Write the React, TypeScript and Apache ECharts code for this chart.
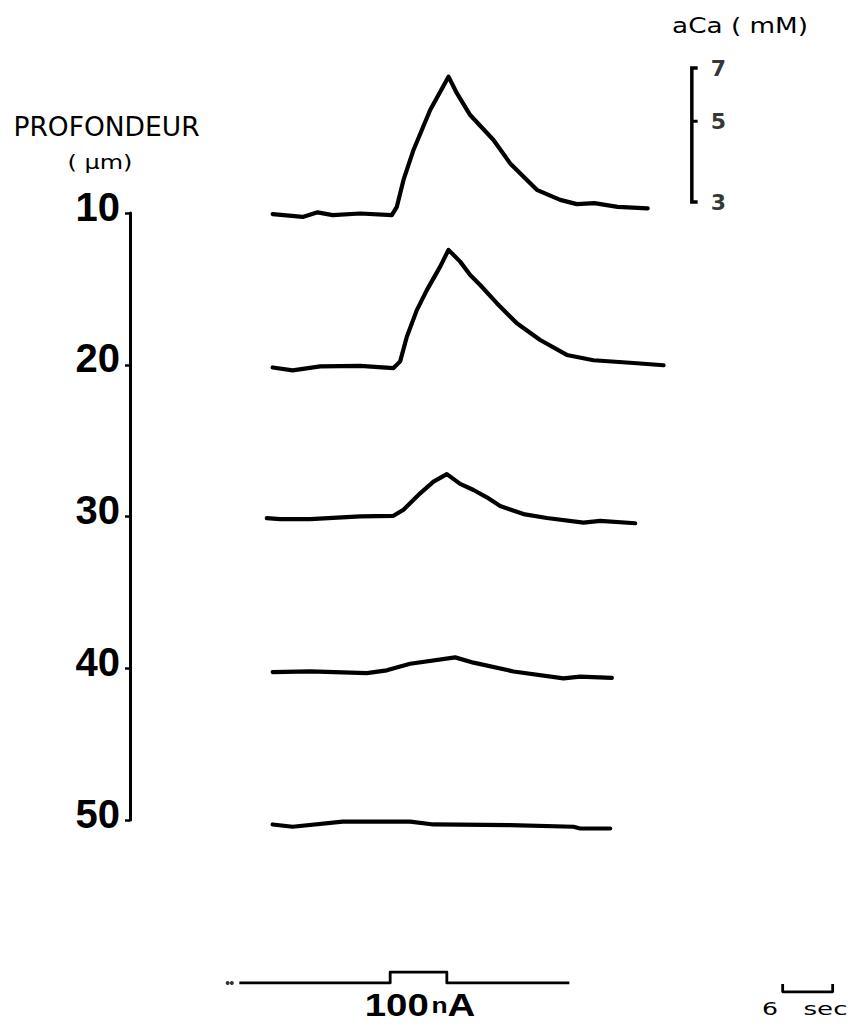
import React, { useEffect, useRef } from "react";
import * as echarts from "echarts";

// ---------- data ----------
const depthLabels = [10, 20, 30, 40, 50];

// time in seconds (0 = onset of the 100 nA pulse), aCa in mM
const trace10Time = [-14.2, -10.6, -8.8, -7.0, -3.7, 0.1, 0.7, 1.5, 2.7, 4.7, 6.9, 7.9, 9.5, 12.3, 14.3, 17.5, 20.3, 22.3, 24.4, 27.2, 30.8];
const trace10Aca = [2.78, 2.73, 2.81, 2.76, 2.79, 2.76, 2.91, 3.45, 4.17, 5.37, 6.63, 5.97, 5.2, 4.44, 3.83, 3.24, 3.04, 2.96, 2.98, 2.91, 2.88];

const trace20Time = [-14.2, -11.8, -8.5, -3.7, 0.3, 1.1, 1.9, 3.1, 4.3, 5.9, 6.9, 8.3, 9.5, 10.7, 12.7, 15.1, 17.9, 21.1, 24.3, 29.1, 32.7];
const trace20Aca = [2.79, 2.74, 2.81, 2.82, 2.78, 2.9, 3.39, 4.01, 4.55, 5.28, 5.87, 5.45, 5.01, 4.7, 4.19, 3.69, 3.32, 3.02, 2.92, 2.87, 2.83];

const trace30Time = [-14.9, -13.3, -9.7, -3.7, 0.3, 1.5, 3.5, 5.1, 6.7, 8.3, 9.9, 11.5, 13.1, 15.9, 18.7, 23.1, 25.1, 29.3];
const trace30Aca = [2.78, 2.76, 2.76, 2.81, 2.82, 2.93, 3.25, 3.5, 3.67, 3.45, 3.32, 3.17, 3.0, 2.85, 2.78, 2.7, 2.73, 2.69];

const trace40Time = [-14.2, -9.7, -2.9, -0.5, 2.3, 7.7, 9.9, 14.7, 20.7, 22.7, 26.5];
const trace40Aca = [2.78, 2.79, 2.76, 2.81, 2.93, 3.05, 2.95, 2.79, 2.67, 2.7, 2.68];

const trace50Time = [-14.2, -11.8, -5.8, 2.3, 5.1, 14.3, 21.9, 22.7, 26.3];
const trace50Aca = [2.79, 2.75, 2.84, 2.84, 2.79, 2.78, 2.75, 2.72, 2.72];

const aCaTicks = [3, 5, 7];
const aCaTickLabels = ["3", "5", "7"];
const scaleBarTime = 36.1;
const scaleTickLength = 0.7;

const stimTime = [-18.2, -0.1, -0.1, 6.7, 6.7, 21.4];
const stimCurrent = [0, 0, 100, 100, 0, 0];
const stimDotsTime = [-19.6, -19.1];

const timeBarStart = 47;
const timeBarLength = 6;

// ---------- layout ----------
const X_MIN = -20;
const X_MAX = 56;
const PX_PER_S = 50 / 6;
const GRID_LEFT = 391 + X_MIN * PX_PER_S;
const GRID_WIDTH = (X_MAX - X_MIN) * PX_PER_S;
const PX_PER_DECADE = 364;
const LOG_MIN = 2.5;
const LOG_MAX = 7.5;
const traceRefY = [202, 356, 506, 660, 813]; // pixel where 3 mM sits for each trace
const traceGridHeight = PX_PER_DECADE * Math.log10(LOG_MAX / LOG_MIN);
const traceGridBelowRef = PX_PER_DECADE * Math.log10(3 / LOG_MIN);

const traces = [
  { time: trace10Time, aca: trace10Aca },
  { time: trace20Time, aca: trace20Aca },
  { time: trace30Time, aca: trace30Aca },
  { time: trace40Time, aca: trace40Aca },
  { time: trace50Time, aca: trace50Aca },
];

const INK = "#000";

function buildOption() {
  const grids: any[] = [];
  const xAxes: any[] = [];
  const yAxes: any[] = [];
  const series: any[] = [];

  const hiddenX = (gridIndex: number) => ({
    type: "value",
    gridIndex,
    min: X_MIN,
    max: X_MAX,
    show: false,
  });

  traces.forEach((tr, i) => {
    grids.push({
      left: GRID_LEFT,
      width: GRID_WIDTH,
      top: traceRefY[i] + traceGridBelowRef - traceGridHeight,
      height: traceGridHeight,
    });
    xAxes.push(hiddenX(i));
    yAxes.push({ type: "log", logBase: 10, gridIndex: i, min: LOG_MIN, max: LOG_MAX, show: false });
    series.push({
      type: "line",
      xAxisIndex: i,
      yAxisIndex: i,
      data: tr.time.map((t, k) => [t, tr.aca[k]]),
      showSymbol: false,
      symbol: "none",
      silent: true,
      lineStyle: { color: INK, width: 4.2, cap: "round", join: "round" },
    });
  });

  // aCa scale bar drawn on the first trace's (log) scale
  const lo = aCaTicks[0];
  const hi = aCaTicks[aCaTicks.length - 1];
  series.push({
    type: "line",
    xAxisIndex: 0,
    yAxisIndex: 0,
    data: [
      [scaleBarTime + scaleTickLength, hi],
      [scaleBarTime, hi],
      [scaleBarTime, lo],
      [scaleBarTime + scaleTickLength, lo],
    ],
    symbol: "none",
    silent: true,
    lineStyle: { color: INK, width: 3.5, join: "miter" },
  });
  aCaTicks.slice(1, -1).forEach((v) => {
    series.push({
      type: "line",
      xAxisIndex: 0,
      yAxisIndex: 0,
      data: [
        [scaleBarTime, v],
        [scaleBarTime + scaleTickLength, v],
      ],
      symbol: "none",
      silent: true,
      lineStyle: { color: INK, width: 3 },
    });
  });
  series.push({
    type: "scatter",
    xAxisIndex: 0,
    yAxisIndex: 0,
    symbolSize: 0,
    silent: true,
    data: aCaTicks.map((v) => [scaleBarTime, v]),
    label: {
      show: true,
      position: "right",
      distance: 19,
      formatter: (p: any) => aCaTickLabels[p.dataIndex],
      fontFamily: "DejaVu Sans",
      fontWeight: "bold",
      fontSize: 22,
      color: INK,
      textBorderWidth: 0,
    },
  });

  // depth axis
  const depthGrid = grids.length;
  grids.push({ left: 130, top: 213, height: 607, width: 100 });
  xAxes.push({ type: "value", gridIndex: depthGrid, show: false });
  yAxes.push({
    type: "value",
    gridIndex: depthGrid,
    inverse: true,
    min: depthLabels[0],
    max: depthLabels[depthLabels.length - 1],
    interval: 10,
    axisLine: { show: true, lineStyle: { color: INK, width: 3 } },
    axisTick: { show: true, length: 5, lineStyle: { color: INK, width: 2.5 } },
    splitLine: { show: false },
    axisLabel: {
      show: true,
      margin: 10,
      formatter: (v: number) => `{d|${v}}`,
      rich: {
        d: {
          color: INK,
          fontFamily: "Liberation Sans",
          fontWeight: "bold",
          fontSize: 40,
          padding: [0, 0, 13, 0],
        },
      },
    },
  });

  // stimulus trace (100 nA pulse)
  const stimGrid = grids.length;
  grids.push({ left: GRID_LEFT, width: GRID_WIDTH, top: 972, height: 11 });
  xAxes.push(hiddenX(stimGrid));
  yAxes.push({ type: "value", gridIndex: stimGrid, min: 0, max: 100, show: false });
  series.push({
    type: "line",
    xAxisIndex: stimGrid,
    yAxisIndex: stimGrid,
    data: stimTime.map((t, k) => [t, stimCurrent[k]]),
    symbol: "none",
    silent: true,
    lineStyle: { color: INK, width: 2.8, join: "round" },
  });
  series.push({
    type: "scatter",
    xAxisIndex: stimGrid,
    yAxisIndex: stimGrid,
    symbolSize: 4,
    silent: true,
    itemStyle: { color: INK },
    data: stimDotsTime.map((t) => [t, 0]),
  });

  // 6 sec time bar
  const barGrid = grids.length;
  grids.push({ left: GRID_LEFT, width: GRID_WIDTH, top: 984, height: 8 });
  xAxes.push(hiddenX(barGrid));
  yAxes.push({ type: "value", gridIndex: barGrid, min: 0, max: 1, show: false });
  series.push({
    type: "line",
    xAxisIndex: barGrid,
    yAxisIndex: barGrid,
    data: [
      [timeBarStart, 1],
      [timeBarStart, 0],
      [timeBarStart + timeBarLength, 0],
      [timeBarStart + timeBarLength, 1],
    ],
    symbol: "none",
    silent: true,
    lineStyle: { color: INK, width: 2.8 },
  });

  const plotterFont = "DejaVu Sans";
  const graphic = [
    {
      type: "text",
      x: 106.5,
      y: 127,
      scaleX: 1.02,
      style: { text: "PROFONDEUR", fontFamily: plotterFont, fontSize: 26, fill: INK, textAlign: "center", textVerticalAlign: "middle" },
    },
    {
      type: "text",
      x: 100,
      y: 162,
      scaleX: 1.2,
      style: { text: "( µm)", fontFamily: plotterFont, fontSize: 20, fill: INK, textAlign: "center", textVerticalAlign: "middle" },
    },
    {
      type: "text",
      x: 740,
      y: 26,
      scaleX: 1.25,
      style: { text: "aCa ( mM)", fontFamily: plotterFont, fontSize: 21, fill: INK, textAlign: "center", textVerticalAlign: "middle" },
    },
    {
      type: "text",
      x: 770,
      y: 1009,
      scaleX: 1.4,
      style: { text: "6", fontFamily: plotterFont, fontSize: 18, fill: INK, textAlign: "center", textVerticalAlign: "middle" },
    },
    {
      type: "text",
      x: 825.5,
      y: 1009,
      scaleX: 1.45,
      style: { text: "sec", fontFamily: plotterFont, fontSize: 18, fill: INK, textAlign: "center", textVerticalAlign: "middle" },
    },
    {
      type: "text",
      x: 420,
      y: 1005,
      scaleX: 1.2,
      style: {
        text: "{b|100}{s| }{n|n}{b|A}",
        textAlign: "center",
        textVerticalAlign: "middle",
        rich: {
          b: { fontFamily: "Liberation Sans", fontWeight: "bold", fontSize: 32, fill: INK, color: INK },
          s: { fontFamily: "Liberation Sans", fontSize: 8, fill: INK, color: INK },
          n: { fontFamily: "Liberation Sans", fontWeight: "bold", fontSize: 22, fill: INK, color: INK },
        },
      },
    },
  ];

  return {
    animation: false,
    backgroundColor: "#fff",
    grid: grids,
    xAxis: xAxes,
    yAxis: yAxes,
    series,
    graphic,
  };
}

export default function App() {
  const ref = useRef<HTMLDivElement>(null);
  useEffect(() => {
    if (!ref.current) return;
    const chart = echarts.init(ref.current, undefined, { renderer: "svg" });
    chart.setOption(buildOption() as any);
    return () => chart.dispose();
  }, []);
  return (
    <div
      ref={ref}
      style={{ position: "absolute", left: 0, top: 0, width: 859, height: 1030, background: "#fff" }}
    />
  );
}
